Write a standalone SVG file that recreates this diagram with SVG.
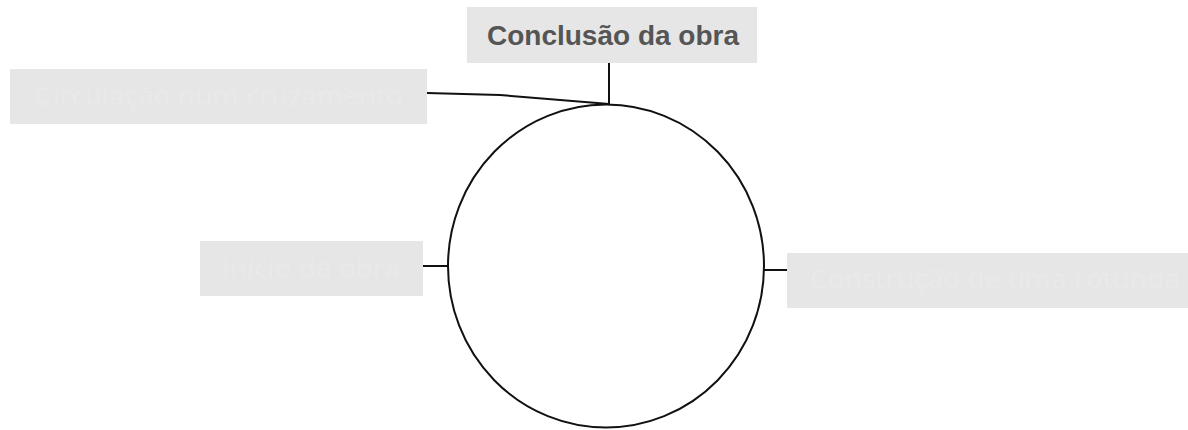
<svg xmlns="http://www.w3.org/2000/svg" width="1188" height="430" viewBox="0 0 1188 430">
<style>
.box{fill:#e6e6e6}
.hid{font-family:"Open Sans","Liberation Sans",sans-serif;font-size:26px;fill:#e9e9e9}
.title{font-family:"Liberation Sans",Arial,sans-serif;font-size:28px;font-weight:bold;fill:#555555}
.ln{stroke:#111111;stroke-width:2;fill:none}
</style>
<rect width="1188" height="430" fill="#ffffff"/>
<g id="connectors">
<line class="ln" x1="609" y1="63" x2="609" y2="104"/>
<polyline class="ln" points="427,93 500,95 597,103 609,104"/>
<line class="ln" x1="423" y1="266" x2="448" y2="266"/>
<line class="ln" x1="764" y1="270" x2="787" y2="270"/>
</g>
<g id="cycle">
<ellipse class="ln" cx="606" cy="266" rx="158" ry="161.5" stroke-width="1.8"/>
</g>
<g id="node-conclusao">
<rect class="box" x="467" y="7" width="290" height="56"/>
<text class="title" x="613" y="45" text-anchor="middle">Conclusão da obra</text>
</g>
<g id="node-circulacao">
<rect class="box" x="10" y="69" width="417" height="55"/>
<text class="hid" x="35" y="105" textLength="368" lengthAdjust="spacingAndGlyphs">Circulação num cruzamento</text>
</g>
<g id="node-inicio">
<rect class="box" x="200" y="241" width="223" height="55"/>
<text class="hid" x="222" y="277" font-size="24" textLength="178" lengthAdjust="spacingAndGlyphs">Início da obra</text>
</g>
<g id="node-construcao">
<rect class="box" x="787" y="253" width="401" height="55"/>
<text class="hid" x="810" y="288" textLength="370" lengthAdjust="spacingAndGlyphs">Construção de uma rotunda</text>
</g>
</svg>
